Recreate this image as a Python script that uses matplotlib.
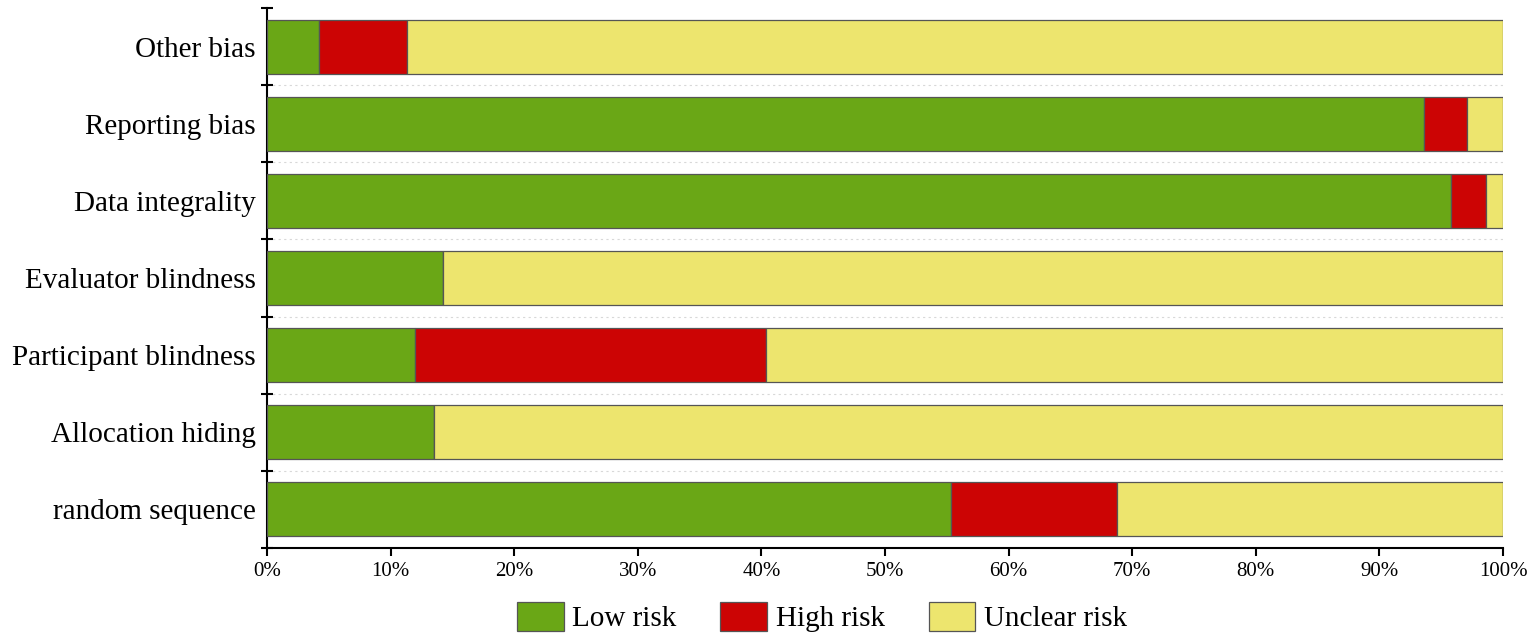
import numpy as np
import matplotlib.pyplot as plt
from matplotlib.ticker import FixedLocator, PercentFormatter

# bottom to top
categories = ["random sequence", "Allocation hiding", "Participant blindness",
              "Evaluator blindness", "Data integrality", "Reporting bias", "Other bias"]
low_risk = [55.3, 13.5, 12.0, 14.2, 95.8, 93.6, 4.2]
high_risk = [13.5, 0.0, 28.4, 0.0, 2.8, 3.5, 7.1]
unclear_risk = [31.2, 86.5, 59.6, 85.8, 1.4, 2.9, 88.7]

series = [("Low risk", low_risk, "#6aa716"),
          ("High risk", high_risk, "#cc0404"),
          ("Unclear risk", unclear_risk, "#ede56e")]

plt.rcParams["font.family"] = ["Liberation Serif", "DejaVu Serif"]

fig = plt.figure(figsize=(15.35, 6.42), dpi=100)
ax = fig.add_axes([267 / 1535, 1 - 548 / 642, 1236 / 1535, 540 / 642])

y = np.arange(len(categories))
left = np.zeros(len(categories))
for name, vals, color in series:
    vals = np.array(vals)
    ax.barh(y, vals, left=left, height=0.70, color=color, edgecolor="#555555",
            linewidth=0.9, label=name, zorder=3)
    left += vals

# faint dotted separators between rows
for b in np.arange(0.5, len(categories) - 0.5, 1):
    ax.axhline(b, color="#d8d8d8", linestyle=(0, (2, 3)), linewidth=0.8, zorder=1)

ax.set_xlim(0, 100)
ax.set_ylim(-0.5, len(categories) - 0.5)
ax.set_xticks(np.arange(0, 101, 10))
ax.xaxis.set_major_formatter(PercentFormatter(decimals=0))
ax.set_yticks(y)
ax.set_yticklabels(categories, fontsize=21)
ax.yaxis.set_minor_locator(FixedLocator(np.arange(-0.5, len(categories), 1)))
ax.tick_params(axis="y", which="major", length=0, pad=8)
ax.tick_params(axis="y", which="minor", direction="inout", length=9, width=1.5)
ax.tick_params(axis="x", which="major", direction="out", length=6, width=1.5,
               labelsize=15, pad=4)

for s in ["top", "right"]:
    ax.spines[s].set_visible(False)
for s in ["left", "bottom"]:
    ax.spines[s].set_linewidth(1.5)

fig.legend(loc="center", bbox_to_anchor=(822 / 1535, 1 - 617 / 642), ncol=3,
           frameon=False, fontsize=21, handlelength=1.6, handleheight=1.15,
           handletextpad=0.3, columnspacing=1.5)

fig.savefig("out.png", dpi=100)
